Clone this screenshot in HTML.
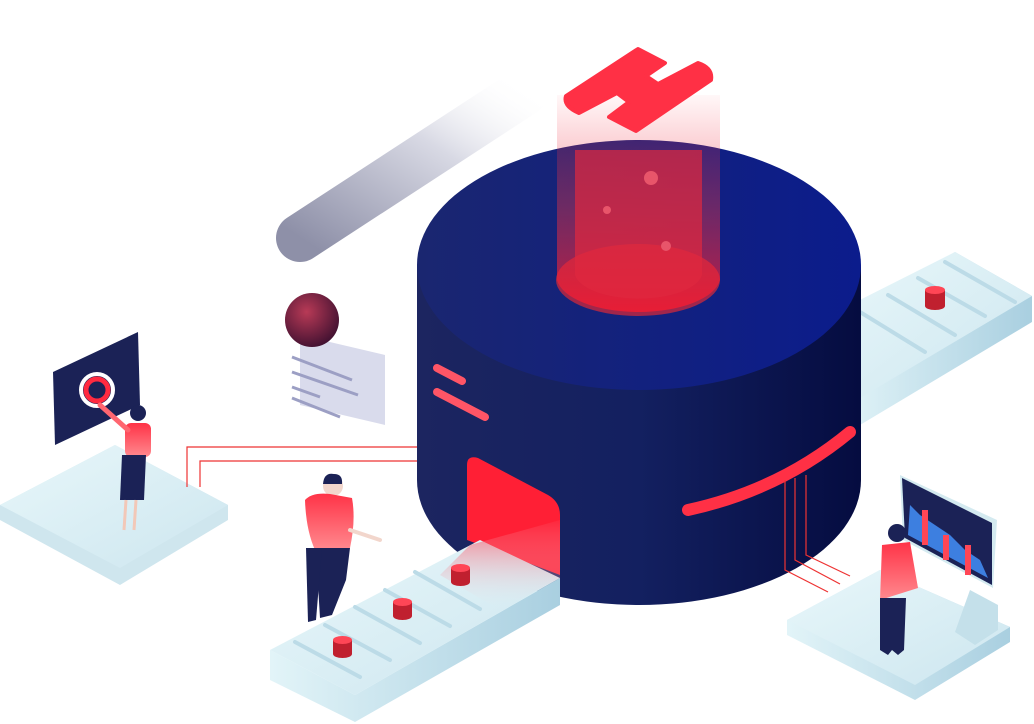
<!DOCTYPE html>
<html><head><meta charset="utf-8"><style>html,body{margin:0;padding:0;background:#fff}svg{display:block}</style></head><body>
<svg width="1034" height="724" viewBox="0 0 1034 724" xmlns="http://www.w3.org/2000/svg">
<defs>
<linearGradient id="pill" x1="0" y1="1" x2="1" y2="0"><stop offset="0" stop-color="#8e90a8"/><stop offset="0.6" stop-color="#d8d9e4"/><stop offset="1" stop-color="#fff" stop-opacity="0"/></linearGradient>
<linearGradient id="side" x1="0" x2="1"><stop offset="0" stop-color="#1c2560"/><stop offset="0.5" stop-color="#132060"/><stop offset="1" stop-color="#050c40"/></linearGradient>
<linearGradient id="top" x1="0" x2="1"><stop offset="0" stop-color="#1a2670"/><stop offset="1" stop-color="#0b1c8c"/></linearGradient>
<linearGradient id="tube" x1="0" y1="0" x2="0" y2="1"><stop offset="0" stop-color="#ff3344" stop-opacity="0.05"/><stop offset="0.5" stop-color="#d4334a" stop-opacity="0.6"/><stop offset="1" stop-color="#ff1a2e"/></linearGradient>
<linearGradient id="belt" x1="0" y1="0" x2="1" y2="1"><stop offset="0" stop-color="#e8f7fa"/><stop offset="1" stop-color="#cde6ef"/></linearGradient>
<linearGradient id="beltside" x1="0" x2="1"><stop offset="0" stop-color="#e2f4f8"/><stop offset="1" stop-color="#a9cfe0"/></linearGradient>
<linearGradient id="shirt" x1="0" y1="0" x2="0" y2="1"><stop offset="0" stop-color="#ff3347"/><stop offset="1" stop-color="#ff8a8f"/></linearGradient>
<linearGradient id="doorfade" x1="0" y1="0" x2="0" y2="1"><stop offset="0" stop-color="#ff2a40" stop-opacity="0.9"/><stop offset="1" stop-color="#e8f7fa" stop-opacity="0"/></linearGradient>
<radialGradient id="ball" cx="0.4" cy="0.35" r="0.7"><stop offset="0" stop-color="#b83a56"/><stop offset="1" stop-color="#3e1030"/></radialGradient>
</defs>

<line x1="300" y1="238" x2="530" y2="88" stroke="url(#pill)" stroke-width="48" stroke-linecap="round"/>

<polygon points="0,505 115,445 228,505 228,520 120,585 0,520" fill="#cfe6ee"/>
<polygon points="0,505 115,445 228,505 120,568" fill="url(#belt)"/>
<polygon points="53,372 138,332 140,405 55,445" fill="#1b2256"/>
<circle cx="97" cy="390" r="16" fill="none" stroke="#fff" stroke-width="4"/>
<circle cx="97" cy="390" r="11" fill="none" stroke="#ff2a40" stroke-width="5"/>
<circle cx="138" cy="413" r="8" fill="#1b2256"/>
<rect x="125" y="423" width="26" height="34" rx="6" fill="url(#shirt)"/>
<line x1="128" y1="430" x2="100" y2="405" stroke="#ff6670" stroke-width="5" stroke-linecap="round"/>
<polygon points="122,455 146,455 144,500 120,500" fill="#1b2256"/>
<line x1="126" y1="500" x2="124" y2="530" stroke="#f2c8b8" stroke-width="3"/>
<line x1="136" y1="500" x2="134" y2="530" stroke="#f2c8b8" stroke-width="3"/>

<polyline points="187,487 187,447 437,447 437,392" fill="none" stroke="#e33" stroke-width="1.2"/>
<polyline points="200,487 200,461 450,461 450,400" fill="none" stroke="#e33" stroke-width="1.2"/>

<polygon points="300,335 385,355 385,425 300,405" fill="#d5d7ea" opacity="0.9"/>
<line x1="292" y1="357" x2="352" y2="380" stroke="#9c9fc4" stroke-width="3"/>
<line x1="292" y1="372" x2="358" y2="395" stroke="#9c9fc4" stroke-width="3"/>
<line x1="292" y1="387" x2="320" y2="397" stroke="#9c9fc4" stroke-width="3"/>
<line x1="292" y1="398" x2="340" y2="417" stroke="#9c9fc4" stroke-width="3"/>
<circle cx="312" cy="320" r="27" fill="url(#ball)"/>

<polygon points="840,320 955,252 1032,296 1032,322 860,425 840,420" fill="url(#beltside)"/>
<polygon points="840,310 955,252 1032,296 860,398" fill="url(#belt)"/>
<g stroke="#bcdbe7" stroke-width="4" stroke-linecap="round">
<line x1="945" y1="262" x2="1015" y2="302"/><line x1="918" y1="278" x2="985" y2="316"/><line x1="888" y1="295" x2="955" y2="335"/><line x1="860" y1="312" x2="925" y2="352"/></g>
<rect x="925" y="290" width="20" height="16" fill="#c0202f"/><ellipse cx="935" cy="306" rx="10" ry="4" fill="#c0202f"/><ellipse cx="935" cy="290" rx="10" ry="4" fill="#ff4656"/>

<path d="M417,265 L417,480 A222,125 0 0 0 861,480 L861,265 Z" fill="url(#side)"/>
<ellipse cx="639" cy="265" rx="222" ry="125" fill="url(#top)"/>
<ellipse cx="638" cy="280" rx="82" ry="36" fill="#c4283f" opacity="0.8"/>
<path d="M557,95 L720,95 L720,280 A82,36 0 0 1 557,280 Z" fill="url(#tube)" opacity="0.75"/>
<path d="M575,150 L702,150 L702,275 A64,27 0 0 1 575,275 Z" fill="#e0283e" opacity="0.7"/>
<circle cx="651" cy="178" r="7" fill="#e8556a"/><circle cx="607" cy="210" r="4" fill="#e8556a"/><circle cx="666" cy="246" r="5" fill="#e8556a"/>
<!-- H logo -->
<path d="M638,49 L665,63 L646,76 L658,84 L698,63 Q713,68 711,80 L636,131 L609,117 L629,102 L617,93 L579,113 Q563,106 566,96 Z" fill="#ff3045" stroke="#ff3045" stroke-width="4" stroke-linejoin="round"/>

<line x1="437" y1="368" x2="462" y2="381" stroke="#ff5566" stroke-width="8" stroke-linecap="round"/>
<line x1="437" y1="392" x2="485" y2="417" stroke="#ff5566" stroke-width="8" stroke-linecap="round"/>
<path d="M688,510 Q780,490 850,432" fill="none" stroke="#ff3045" stroke-width="12" stroke-linecap="round"/>
<polyline points="785,480 785,570 828,592" fill="none" stroke="#e33" stroke-width="1.2"/>
<polyline points="795,478 795,560 840,584" fill="none" stroke="#e33" stroke-width="1.2"/>
<polyline points="806,475 806,555 850,576" fill="none" stroke="#e33" stroke-width="1.2"/>
<path d="M467,465 Q467,455 478,458 L548,495 Q560,502 560,515 L560,575 L467,540 Z" fill="#ff1f35"/>

<polygon points="270,650 270,680 355,722 560,605 560,578 355,695" fill="url(#beltside)"/>
<polygon points="270,650 480,540 560,578 355,695" fill="url(#belt)"/>
<polygon points="470,545 560,520 560,578 500,610 440,575" fill="url(#doorfade)" opacity="0.8"/>
<g stroke="#bcdbe7" stroke-width="4" stroke-linecap="round">
<line x1="295" y1="642" x2="360" y2="677"/><line x1="325" y1="625" x2="390" y2="660"/><line x1="355" y1="607" x2="420" y2="643"/><line x1="385" y1="590" x2="450" y2="626"/><line x1="415" y1="572" x2="480" y2="609"/></g>
<g><rect x="333" y="640" width="19" height="14" fill="#c0202f"/><ellipse cx="342.5" cy="654" rx="9.5" ry="4" fill="#c0202f"/><ellipse cx="342.5" cy="640" rx="9.5" ry="4" fill="#ff4656"/></g>
<g><rect x="393" y="602" width="19" height="14" fill="#c0202f"/><ellipse cx="402.5" cy="616" rx="9.5" ry="4" fill="#c0202f"/><ellipse cx="402.5" cy="602" rx="9.5" ry="4" fill="#ff4656"/></g>
<g><rect x="451" y="568" width="19" height="14" fill="#c0202f"/><ellipse cx="460.5" cy="582" rx="9.5" ry="4" fill="#c0202f"/><ellipse cx="460.5" cy="568" rx="9.5" ry="4" fill="#ff4656"/></g>

<circle cx="333" cy="486" r="10" fill="#f2d6cc"/><path d="M323,484 Q324,472 334,474 Q343,474 342,484 Z" fill="#1b2256"/>
<path d="M305,500 Q312,492 330,494 L352,498 Q356,520 350,548 L315,550 Q306,530 305,500 Z" fill="url(#shirt)"/>
<line x1="350" y1="530" x2="380" y2="540" stroke="#f2d6cc" stroke-width="4" stroke-linecap="round"/>
<polygon points="315,548 350,548 346,580 332,615 320,618 318,585" fill="#1b2256"/>
<polygon points="306,548 322,548 316,620 308,622" fill="#1b2256"/>

<polygon points="787,620 880,570 1010,627 1010,642 915,700 787,635" fill="url(#beltside)"/>
<polygon points="787,620 880,570 1010,627 915,685" fill="url(#belt)"/>
<polygon points="970,590 998,605 998,630 975,645 955,632" fill="#c4e0ea"/>
<polygon points="900,475 997,520 993,588 903,540" fill="#d4eaf0"/>
<polygon points="902,478 992,523 992,585 905,538" fill="#1b2256"/>
<path d="M910,505 L920,515 L935,525 L950,535 L965,550 L980,560 L988,578 L908,535 Z" fill="#3d7fe0"/>
<rect x="922" y="510" width="6" height="35" fill="#ff4656"/><rect x="943" y="535" width="6" height="25" fill="#ff4656"/><rect x="965" y="545" width="6" height="30" fill="#ff4656"/>
<circle cx="897" cy="533" r="9" fill="#1b2256"/>
<path d="M882,545 L910,542 L918,588 L880,600 Z" fill="url(#shirt)"/>
<polygon points="880,598 906,598 904,650 898,655 892,650 888,655 880,650" fill="#1b2256"/>
</svg>
</body></html>
